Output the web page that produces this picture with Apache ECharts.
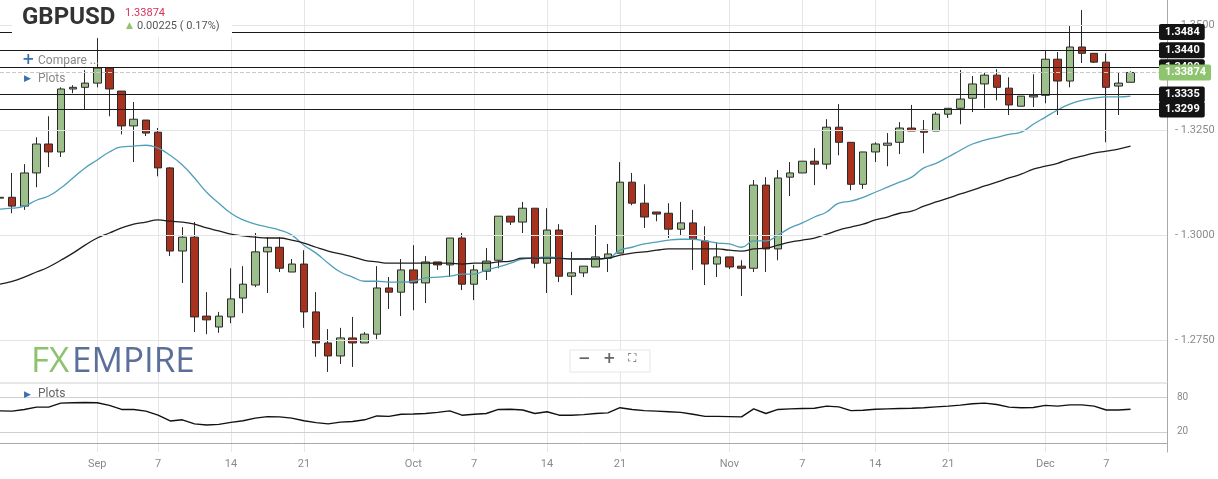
<!DOCTYPE html>
<html>
<head>
<meta charset="utf-8">
<script src="https://cdn.jsdelivr.net/npm/echarts@6/dist/echarts.min.js"></script>
<style>
  html, body { margin: 0; padding: 0; background: #fff; }
  #chart { width: 1218px; height: 479px; }
</style>
</head>
<body>
<div id="chart"></div>
<script>
// candles: [open, close, low, high], Aug 23 2020 .. Dec 9 2020 (Sun-Fri sessions)
const candles = [
  [1.3088,1.3090,1.3086,1.3093],[1.3090,1.3069,1.3052,1.3148],[1.3069,1.3148,1.3060,1.3169],[1.3148,1.3217,1.3114,1.3233],
  [1.3217,1.3198,1.3162,1.3283],[1.3198,1.3348,1.3186,1.3352],[1.3348,1.3352,1.3338,1.3357],[1.3352,1.3362,1.3298,1.3393],
  [1.3362,1.3398,1.3352,1.3469],[1.3398,1.3348,1.3283,1.3398],[1.3343,1.3260,1.3240,1.3343],[1.3260,1.3276,1.3174,1.3317],
  [1.3274,1.3243,1.3236,1.3274],[1.3245,1.3160,1.3140,1.3255],[1.3160,1.2962,1.2950,1.3162],[1.2962,1.2995,1.2886,1.3019],
  [1.2995,1.2805,1.2769,1.3031],[1.2807,1.2798,1.2764,1.2864],[1.2781,1.2807,1.2767,1.2817],[1.2805,1.2848,1.2790,1.2921],
  [1.2850,1.2883,1.2814,1.2926],[1.2881,1.2960,1.2876,1.3005],[1.2960,1.2971,1.2862,1.2995],[1.2971,1.2921,1.2912,1.2995],
  [1.2912,1.2931,1.2912,1.2943],[1.2931,1.2817,1.2779,1.2964],[1.2817,1.2743,1.2710,1.2864],[1.2743,1.2712,1.2674,1.2776],
  [1.2712,1.2755,1.2693,1.2779],[1.2755,1.2743,1.2686,1.2805],[1.2743,1.2764,1.2743,1.2769],[1.2764,1.2874,1.2752,1.2926],
  [1.2874,1.2864,1.2824,1.2900],[1.2864,1.2917,1.2807,1.2943],[1.2917,1.2886,1.2821,1.2976],[1.2886,1.2936,1.2838,1.2950],
  [1.2936,1.2929,1.2917,1.2936],[1.2929,1.2993,1.2900,1.2993],[1.2993,1.2883,1.2869,1.3005],[1.2883,1.2917,1.2845,1.2929],
  [1.2914,1.2938,1.2893,1.2969],[1.2940,1.3045,1.2921,1.3045],[1.3045,1.3031,1.3024,1.3045],[1.3031,1.3064,1.3005,1.3079],
  [1.3064,1.2933,1.2921,1.3064],[1.2933,1.3012,1.2862,1.3064],[1.3012,1.2902,1.2888,1.3026],[1.2902,1.2910,1.2857,1.2960],
  [1.2910,1.2926,1.2900,1.2926],[1.2924,1.2948,1.2924,1.3024],[1.2945,1.2955,1.2912,1.2979],[1.2957,1.3126,1.2957,1.3174],
  [1.3126,1.3076,1.3071,1.3148],[1.3076,1.3043,1.3017,1.3121],[1.3055,1.3050,1.3033,1.3055],[1.3052,1.3014,1.2993,1.3076],
  [1.3014,1.3029,1.3000,1.3079],[1.3029,1.2990,1.2917,1.3060],[1.2986,1.2931,1.2881,1.3021],[1.2931,1.2948,1.2900,1.2983],
  [1.2948,1.2924,1.2919,1.2948],[1.2926,1.2921,1.2855,1.2940],[1.2921,1.3119,1.2912,1.3131],[1.3119,1.2967,1.2912,1.3138],
  [1.2967,1.3136,1.2940,1.3155],[1.3138,1.3148,1.3093,1.3174],[1.3148,1.3176,1.3148,1.3176],[1.3176,1.3169,1.3119,1.3207],
  [1.3169,1.3257,1.3157,1.3276],[1.3257,1.3221,1.3190,1.3312],[1.3221,1.3121,1.3107,1.3221],[1.3121,1.3198,1.3110,1.3198],
  [1.3198,1.3217,1.3174,1.3221],[1.3214,1.3219,1.3164,1.3243],[1.3221,1.3255,1.3193,1.3269],[1.3255,1.3248,1.3248,1.3310],
  [1.3250,1.3245,1.3195,1.3274],[1.3248,1.3288,1.3248,1.3293],[1.3288,1.3302,1.3279,1.3302],[1.3302,1.3324,1.3264,1.3393],
  [1.3326,1.3360,1.3293,1.3379],[1.3360,1.3381,1.3302,1.3388],[1.3381,1.3352,1.3321,1.3395],[1.3350,1.3310,1.3286,1.3376],
  [1.3307,1.3331,1.3307,1.3331],[1.3329,1.3333,1.3305,1.3383],[1.3333,1.3419,1.3314,1.3440],[1.3419,1.3367,1.3286,1.3436],
  [1.3367,1.3448,1.3352,1.3498],[1.3448,1.3433,1.3410,1.3536],[1.3433,1.3412,1.3410,1.3433],[1.3412,1.3352,1.3221,1.3433],
  [1.3355,1.3362,1.3286,1.3388],[1.3364,1.33874,1.3364,1.3390]
];
const maFast = [
  1.3062,1.3064,1.3069,1.3083,1.3093,1.3112,1.3136,1.3160,1.3179,1.3198,
  1.3210,1.3212,1.3214,1.3207,1.3190,1.3167,1.3136,1.3102,1.3076,1.3052,
  1.3036,1.3026,1.3019,1.3012,1.3000,1.2976,1.2957,1.2933,1.2912,1.2900,
  1.2890,1.2890,1.2888,1.2888,1.2890,1.2898,1.2900,1.2902,1.2907,1.2907,
  1.2917,1.2924,1.2933,1.2943,1.2945,1.2948,1.2945,1.2943,1.2943,1.2943,
  1.2945,1.2964,1.2971,1.2979,1.2983,1.2988,1.2990,1.2990,1.2986,1.2981,
  1.2979,1.2971,1.2986,1.2986,1.3000,1.3017,1.3029,1.3043,1.3055,1.3076,
  1.3081,1.3090,1.3102,1.3114,1.3126,1.3138,1.3160,1.3171,1.3186,1.3202,
  1.3217,1.3226,1.3233,1.3240,1.3245,1.3264,1.3281,1.3298,1.3312,1.3321,
  1.3326,1.3329,1.3329,1.3331
];
const maSlow = [
  1.2883,1.2890,1.2900,1.2912,1.2924,1.2940,1.2957,1.2976,1.2993,1.3005,
  1.3017,1.3026,1.3031,1.3036,1.3033,1.3031,1.3026,1.3017,1.3010,1.3002,
  1.2998,1.2995,1.2993,1.2993,1.2988,1.2981,1.2971,1.2962,1.2955,1.2948,
  1.2940,1.2936,1.2933,1.2933,1.2933,1.2933,1.2933,1.2933,1.2931,1.2933,
  1.2933,1.2936,1.2938,1.2945,1.2945,1.2945,1.2945,1.2943,1.2943,1.2943,
  1.2945,1.2952,1.2957,1.2960,1.2964,1.2967,1.2967,1.2967,1.2967,1.2967,
  1.2964,1.2962,1.2967,1.2969,1.2976,1.2983,1.2988,1.2993,1.3002,1.3012,
  1.3019,1.3026,1.3036,1.3043,1.3052,1.3057,1.3069,1.3079,1.3088,1.3098,
  1.3107,1.3117,1.3126,1.3136,1.3145,1.3157,1.3164,1.3171,1.3181,1.3188,
  1.3195,1.3200,1.3205,1.3212
];
const rsi = [
  56.5,56,59,63,63,70,70.6,71,70.6,66,59,59,56,49,39,41,34,32,33,36.5,
  39.4,44,46.5,46,44,39.4,36,34,37,38,41,47.7,47,50.6,51,52,54,56.5,49,50.6,
  52,59,59.4,58,52,55,49,49,50,52,53,62,59,57,56,55,54,50.6,47,47,
  46.5,46,60,52,59,60,60.6,61,64.7,63.5,57,57.6,59.4,60,60.6,61,62,63.5,64.7,66.5,
  69,70,67.6,63,62,62.4,66,64.7,67,67,64.7,58,58,59.4
];
const levels = [1.3484, 1.3440, 1.3400, 1.3335, 1.3299];
const lastPrice = 1.33874;
const priceTicks = [1.2750, 1.3000, 1.3250, 1.3500];
const rsiTicks = [20, 80];

// trading sessions Sun..Fri, plus 3 empty slots on the right
const dates = [];
const monthNames = ['Jan','Feb','Mar','Apr','May','Jun','Jul','Aug','Sep','Oct','Nov','Dec'];
for (let d = new Date(Date.UTC(2020, 7, 23)); dates.length < candles.length; d.setUTCDate(d.getUTCDate() + 1)) {
  if (d.getUTCDay() !== 6) dates.push(new Date(d));
}
const cats = dates.map(d => d.toISOString().slice(0, 10)).concat(['', '', '']);
const tickLabel = {};
[1, 7, 14, 21].forEach(day => {
  [8, 9, 10, 11].forEach(m => {
    const idx = dates.findIndex(d => d.getUTCMonth() === m && d.getUTCDate() >= day);
    if (idx >= 0 && dates[idx].getUTCMonth() === m) tickLabel[idx] = day === 1 ? monthNames[m] : String(day);
  });
});
const isTick = i => tickLabel[i] !== undefined;

const chart = echarts.init(document.getElementById('chart'));
const grey = '#8a8a8a';
const tagLabel = (bg, digits) => ({
  position: 'end', distance: -8, formatter: p => Number(p.value).toFixed(digits), color: '#fff',
  backgroundColor: bg, padding: [3, 5, 2, 6], fontSize: 11, fontFamily: 'Roboto', fontWeight: 'bold', borderRadius: 2
});
chart.setOption({
  animation: false,
  grid: [
    { left: 0, right: 51, top: 0, height: 382 },
    { left: 0, right: 51, top: 383, height: 69 }
  ],
  xAxis: [
    { type: 'category', data: cats, gridIndex: 0, boundaryGap: false,
      axisLine: { show: false }, axisTick: { show: false }, axisLabel: { show: false },
      splitLine: { show: true, interval: i => isTick(i), lineStyle: { color: '#e6e6e6' } } },
    { type: 'category', data: cats, gridIndex: 1, boundaryGap: false,
      axisLine: { lineStyle: { color: '#aaa' } }, axisTick: { show: false },
      axisLabel: { interval: i => isTick(i), formatter: (v, i) => tickLabel[i] || '',
        color: grey, fontSize: 11, fontFamily: 'Roboto', margin: 7 },
      splitLine: { show: true, interval: i => isTick(i), lineStyle: { color: '#e6e6e6' } } }
  ],
  yAxis: [
    { type: 'value', gridIndex: 0, position: 'right', min: 1.2650, max: 1.3560, interval: 0.0025,
      axisLine: { show: true, lineStyle: { color: '#aaa' } }, axisTick: { show: false }, splitLine: { show: false },
      axisLabel: { color: grey, fontSize: 11, fontFamily: 'Roboto', margin: 8,
        formatter: v => priceTicks.some(t => Math.abs(t - v) < 1e-6) ? '- ' + v.toFixed(4) : '' } },
    { type: 'value', gridIndex: 1, position: 'right', min: -15, max: 105, interval: 5,
      axisLine: { show: true, lineStyle: { color: '#aaa' } }, axisTick: { show: false }, splitLine: { show: false },
      axisLabel: { color: grey, fontSize: 10, fontFamily: 'Roboto', margin: 10,
        formatter: v => rsiTicks.includes(v) ? String(v) : '' } }
  ],
  series: [
    { type: 'candlestick', xAxisIndex: 0, yAxisIndex: 0, data: candles, barWidth: 8,
      itemStyle: { color: '#9dbf8c', color0: '#a8321e', borderColor: '#2a2a2a', borderColor0: '#2a2a2a', borderWidth: 1 },
      markLine: { silent: true, symbol: 'none', precision: 5,
        lineStyle: { color: '#e4e4e4', type: 'solid', width: 1 }, label: { show: false },
        data: priceTicks.map(t => ({ yAxis: t })) } },
    { type: 'line', xAxisIndex: 0, yAxisIndex: 0, data: maFast, showSymbol: false, smooth: true,
      lineStyle: { color: '#4f9fb8', width: 1.3 } },
    { type: 'line', xAxisIndex: 0, yAxisIndex: 0, data: maSlow, showSymbol: false, smooth: true,
      lineStyle: { color: '#1e1e1e', width: 1.3 } },
    { type: 'line', xAxisIndex: 0, yAxisIndex: 0, data: [], z: 5,
      markLine: { silent: true, symbol: 'none', precision: 5,
        lineStyle: { color: '#1a1a1a', type: 'solid', width: 1.2 },
        label: tagLabel('#141414', 4),
        data: levels.map(v => ({ yAxis: v })) } },
    { type: 'line', xAxisIndex: 0, yAxisIndex: 0, data: [], z: 6,
      markLine: { silent: true, symbol: 'none', precision: 5,
        lineStyle: { color: '#c8c8c8', type: 'dashed', width: 1 },
        label: tagLabel('#8fc46f', 5),
        data: [{ yAxis: lastPrice }] } },
    { type: 'line', xAxisIndex: 1, yAxisIndex: 1, data: rsi, showSymbol: false,
      lineStyle: { color: '#111', width: 1.4 },
      markLine: { silent: true, symbol: 'none', label: { show: false },
        lineStyle: { color: '#cfcfcf', type: 'solid', width: 1 },
        data: rsiTicks.map(v => ({ yAxis: v })) } }
  ],
  graphic: [
    { type: 'line', shape: { x1: 0, y1: 383, x2: 1167, y2: 383 }, style: { stroke: '#cfcfcf', lineWidth: 1 }, z: 50 },
    { type: 'rect', shape: { x: 12, y: 0, width: 220, height: 37 }, style: { fill: '#fff' }, z: 100 },
    { type: 'text', left: 22, top: 6, z: 101, style: { text: 'GBPUSD', font: 'bold 24px Roboto', fill: '#333' } },
    { type: 'text', left: 125, top: 8, z: 101, style: { text: '1.33874', font: '11px Roboto', fill: '#d7305a' } },
    { type: 'text', left: 126, top: 21, z: 101, style: { text: '▲', font: '9px DejaVu Sans', fill: '#8fc46f' } },
    { type: 'text', left: 137, top: 21, z: 101, style: { text: '0.00225 ( 0.17%)', font: '11px Roboto', fill: '#555' } },
    { type: 'text', left: 22, top: 53, z: 101, style: { text: '+', font: 'bold 15px DejaVu Sans', fill: '#3a6fb0' } },
    { type: 'text', left: 38, top: 55, z: 101, style: { text: 'Compare ...', font: '12px Roboto', fill: '#888' } },
    { type: 'text', left: 24, top: 74, z: 101, style: { text: '▶', font: '9px DejaVu Sans', fill: '#3a6fb0' } },
    { type: 'text', left: 38, top: 73, z: 101, style: { text: 'Plots', font: '12px Roboto', fill: '#888' } },
    { type: 'text', left: 24, top: 390, z: 101, style: { text: '▶', font: '9px DejaVu Sans', fill: '#3a6fb0' } },
    { type: 'text', left: 38, top: 388, z: 101, style: { text: 'Plots', font: '12px Roboto', fill: '#666' } },
    { type: 'text', left: 31, top: 345, z: 101, style: { text: 'FX', font: '500 35px "Open Sans"', fill: '#8dc26f' } },
    { type: 'text', left: 72, top: 345, z: 101, style: { text: 'EMPIRE', font: '500 35px "Open Sans"', fill: '#5b6f9b' } },
    { type: 'rect', shape: { x: 570, y: 350, width: 80, height: 22 }, style: { fill: '#fff', stroke: '#e6e6e6' }, z: 100 },
    { type: 'text', left: 578, top: 352, z: 101, style: { text: '−', font: 'bold 15px DejaVu Sans', fill: '#666' } },
    { type: 'text', left: 603, top: 352, z: 101, style: { text: '+', font: 'bold 15px DejaVu Sans', fill: '#666' } },
    { type: 'text', left: 628, top: 353, z: 101, style: { text: '⛶', font: '12px DejaVu Sans', fill: '#666' } }
  ]
});
</script>
</body>
</html>
